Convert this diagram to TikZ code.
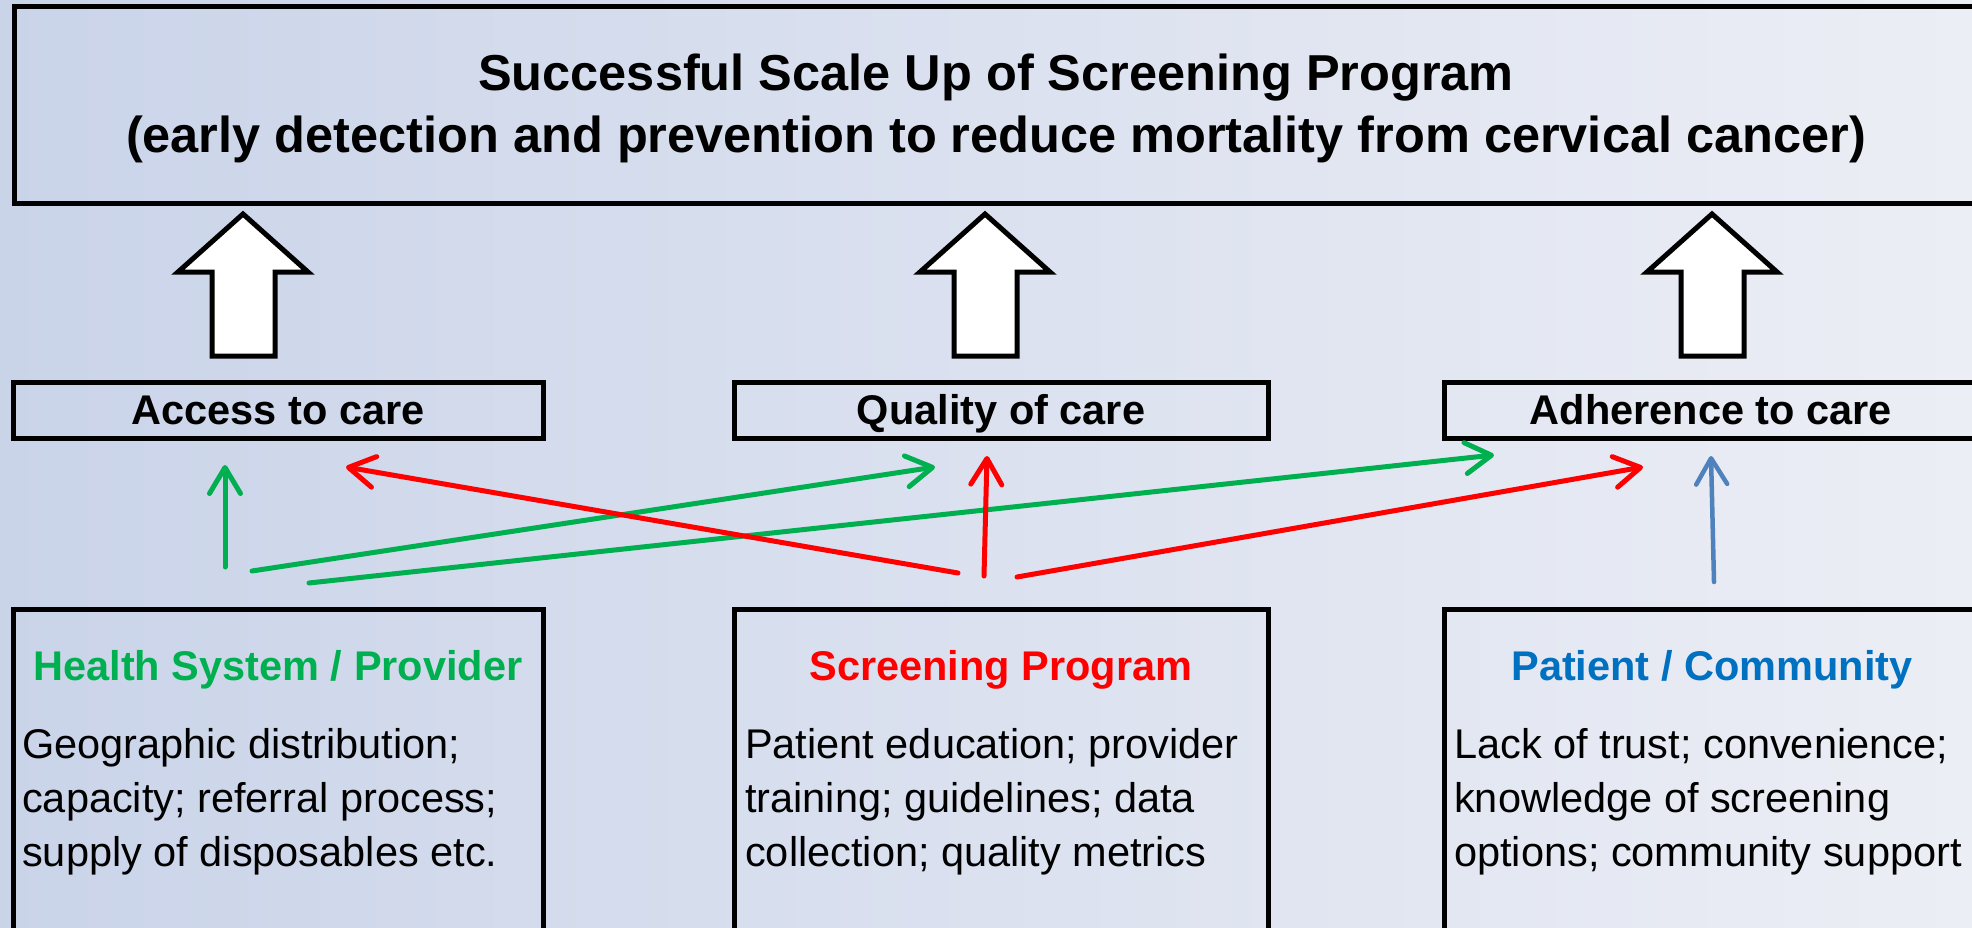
\documentclass[tikz,border=0pt]{standalone}
\usepackage{fontspec}
\setmainfont{Liberation Sans}
\usetikzlibrary{arrows.meta}
\definecolor{bgleft}{HTML}{CAD4E9}
\definecolor{bgright}{HTML}{ECEEF5}
\definecolor{hsgreen}{HTML}{00B050}
\definecolor{spred}{HTML}{FF0000}
\definecolor{pcblue}{HTML}{0070C0}
\definecolor{linkblue}{HTML}{4F81BD}

\begin{document}
\begin{tikzpicture}[x=1pt,y=-1pt,
  frame/.style={draw=black, line width=5pt, rectangle, inner sep=0pt},
  bigarrow/.style={draw=black, fill=white, line width=5pt, miter limit=10},
  link/.style={line width=5pt, line cap=round,
    -{Straight Barb[length=26pt,width=31pt,round]}},
  titletext/.style={font=\fontsize{50.5}{59}\selectfont\bfseries, anchor=base, inner sep=0pt},
  labeltext/.style={font=\fontsize{41.5}{50}\selectfont\bfseries, anchor=base, inner sep=0pt},
  bodytext/.style={font=\fontsize{41.5}{54}\selectfont, anchor=base west, inner sep=0pt, align=left},
]
% background and page size
\useasboundingbox (0,0) rectangle (1972,928);
\clip (0,0) rectangle (1972,928);
\shade[left color=bgleft, right color=bgright] (0,0) rectangle (1972,928);

% goal box
\node[frame, minimum width=1962pt, minimum height=197pt] (goal) at (995,105.5) {};
\node[titletext] (goal-l1) at (996,91) {Successful Scale Up of Screening Program};
\node[titletext] (goal-l2) at (996,153) {(early detection and prevention to reduce mortality from cervical cancer)};

% outcome boxes
\node[frame, minimum width=530pt, minimum height=56pt] (access) at (278,410) {};
\node[frame, minimum width=534pt, minimum height=56pt] (quality) at (1001,410) {};
\node[frame, minimum width=532pt, minimum height=56pt] (adherence) at (1710,410) {};
\node[labeltext] (access-t) at (278,424) {Access to care};
\node[labeltext] (quality-t) at (1001,424) {Quality of care};
\node[labeltext] (adherence-t) at (1711,424) {Adherence to care};

% factor boxes
\node[frame, minimum width=530pt, minimum height=331pt] (health) at (278,774.5) {};
\node[frame, minimum width=534pt, minimum height=331pt] (program) at (1001,774.5) {};
\node[frame, minimum width=532pt, minimum height=331pt] (patient) at (1710,774.5) {};
\node[labeltext, text=hsgreen] (health-t) at (278,680) {Health System / Provider};
\node[labeltext, text=spred] (program-t) at (1001,680) {Screening Program};
\node[labeltext, text=pcblue] (patient-t) at (1712,680) {Patient / Community};
% the base anchor of a three-line node sits on its last line
\node[bodytext] (health-b) at (22,866) {Geographic distribution;\\capacity; referral process;\\supply of disposables etc.};
\node[bodytext] (program-b) at (745,866) {Patient education; provider\\training; guidelines; data\\collection; quality metrics};
\node[bodytext] (patient-b) at (1454,866) {Lack of trust; convenience;\\knowledge of screening\\options; community support};

% block arrows from outcomes to the goal
\foreach \cx in {243,985,1712}
  \draw[bigarrow] (\cx,214) -- (\cx+65,272) -- (\cx+32,272) -- (\cx+32,356)
    -- (\cx-31,356) -- (\cx-31,272) -- (\cx-65,272) -- cycle;

% link end points
\coordinate (hs-a0) at (225,567);   \coordinate (hs-a1) at (225,465);
\coordinate (hs-q0) at (252,571);   \coordinate (hs-q1) at (935,467);
\coordinate (hs-d0) at (309,583);   \coordinate (hs-d1) at (1494,455);
\coordinate (sp-a0) at (958,573);   \coordinate (sp-a1) at (346,467);
\coordinate (sp-q0) at (984,576);   \coordinate (sp-q1) at (987,456);
\coordinate (sp-d0) at (1017,577);  \coordinate (sp-d1) at (1643,467);
\coordinate (pc-d0) at (1714,582);  \coordinate (pc-d1) at (1711,456);

% links from factors to outcomes
\draw[link, draw=hsgreen] (hs-a0) -- (hs-a1);
\draw[link, draw=hsgreen] (hs-q0) -- (hs-q1);
\draw[link, draw=hsgreen] (hs-d0) -- (hs-d1);
\draw[link, draw=spred] (sp-a0) -- (sp-a1);
\draw[link, draw=spred] (sp-q0) -- (sp-q1);
\draw[link, draw=spred] (sp-d0) -- (sp-d1);
\draw[link, draw=linkblue, line width=4.5pt] (pc-d0) -- (pc-d1);
\end{tikzpicture}
\end{document}
